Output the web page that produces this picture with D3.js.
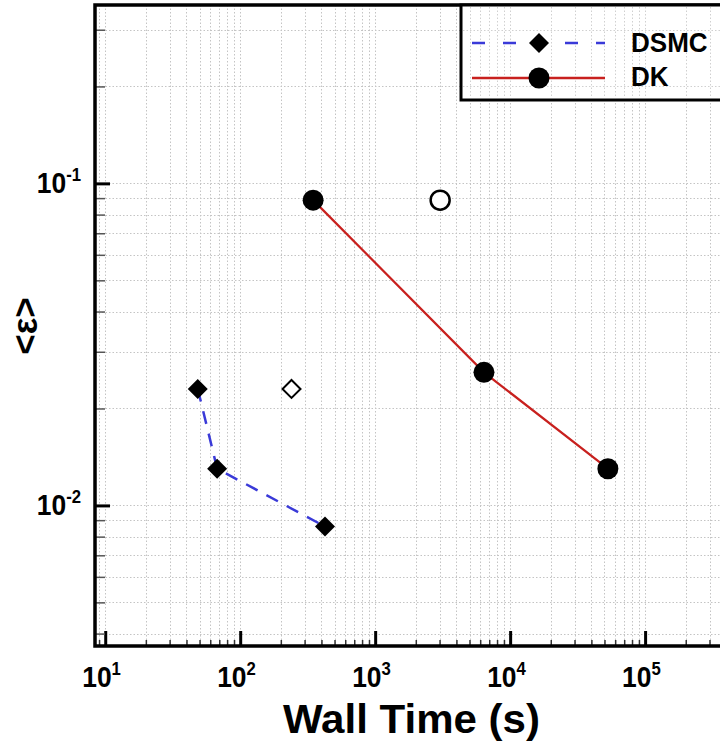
<!DOCTYPE html>
<html>
<head>
<meta charset="utf-8">
<script src="https://cdn.jsdelivr.net/npm/d3@7"></script>
<style>
html,body{margin:0;padding:0;background:#fff;overflow:hidden;}
svg{display:block;}
</style>
</head>
<body>
<svg id="chart" width="720" height="742"></svg>
<script>
// ---- data ----
const dsmcTime = [48.5, 67.5, 425];
const dsmcErr  = [0.0230, 0.0130, 0.0086];
const dkTime   = [347, 6400, 53000];
const dkErr    = [0.0887, 0.0259, 0.0130];
const openDiamond = [{t: 240, e: 0.0230}];
const openCircle  = [{t: 3030, e: 0.0887}];
const xMajorTicks = [10, 100, 1000, 10000, 100000];
const xTickExp    = ["1", "2", "3", "4", "5"];
const yMajorTicks = [0.01, 0.1];
const yTickExp    = ["-2", "-1"];
const seriesNames = ["DSMC", "DK"];

// ---- layout ----
const svg = d3.select("#chart");
const L = 95, T = 5, B = 646, R = 760;
const x = d3.scaleLog().domain([8.4, 7.1e5]).range([L, R]);
const y = d3.scaleLog().domain([0.00366, 0.358]).range([B, T]);

function minors(dom) {
  const out = [];
  const lo = Math.floor(Math.log10(dom[0])), hi = Math.ceil(Math.log10(dom[1]));
  for (let p = lo; p <= hi; p++) {
    for (let m = 1; m <= 9; m++) {
      const v = m * Math.pow(10, p);
      if (v >= dom[0] && v <= dom[1]) out.push(v);
    }
  }
  return out;
}
const xAll = minors(x.domain());
const yAll = minors(y.domain());
const xMinor = xAll.filter(v => !xMajorTicks.some(m => Math.abs(m - v) / m < 1e-9));
const yMinor = yAll.filter(v => !yMajorTicks.some(m => Math.abs(m - v) / m < 1e-9));

// ---- grid ----
const grid = svg.append("g").attr("stroke", "#c4c4c4").attr("stroke-width", 1).attr("stroke-dasharray", "1.5,2");
grid.selectAll("line.gx").data(xAll).enter().append("line")
  .attr("x1", d => Math.round(x(d)) + 0.5).attr("x2", d => Math.round(x(d)) + 0.5)
  .attr("y1", T).attr("y2", B);
grid.selectAll("line.gy").data(yAll).enter().append("line")
  .attr("y1", d => Math.round(y(d)) + 0.5).attr("y2", d => Math.round(y(d)) + 0.5)
  .attr("x1", L).attr("x2", R);

// ---- axes ticks ----
const font = "'Liberation Sans', Arial, sans-serif";
const xAxisMinor = d3.axisBottom(x).tickValues(xMinor).tickSize(-6).tickFormat("");
const xAxisMajor = d3.axisBottom(x).tickValues(xMajorTicks).tickSize(-15).tickFormat("");
const yAxisMinor = d3.axisLeft(y).tickValues(yMinor).tickSize(-10).tickFormat("");
const yAxisMajor = d3.axisLeft(y).tickValues(yMajorTicks).tickSize(-15).tickFormat("");

function styleAxis(g, w, col) {
  g.select(".domain").remove();
  g.selectAll(".tick line").attr("stroke", col).attr("stroke-width", w);
}
svg.append("g").attr("transform", `translate(0,${B})`).call(xAxisMinor).call(g => styleAxis(g, 1.5, "#333"));
svg.append("g").attr("transform", `translate(0,${B})`).call(xAxisMajor).call(g => styleAxis(g, 3, "#000"));
svg.append("g").attr("transform", `translate(${L},0)`).call(yAxisMinor).call(g => styleAxis(g, 1.5, "#555"));
svg.append("g").attr("transform", `translate(${L},0)`).call(yAxisMajor).call(g => styleAxis(g, 3, "#000"));

// ---- frame ----
svg.append("path")
  .attr("d", `M${R},${T}H${L}V${B}H${R}`)
  .attr("fill", "none").attr("stroke", "#000").attr("stroke-width", 3.5);

// ---- tick labels ----
const xl = svg.append("g").attr("font-family", font).attr("font-weight", "bold").attr("fill", "#000");
xMajorTicks.forEach((v, i) => {
  const t = xl.append("text").attr("transform", `translate(${x(v) - 23},687) scale(0.88,1)`)
    .attr("text-anchor", "start").attr("font-size", 30);
  t.append("tspan").text("10");
  t.append("tspan").attr("dy", -12).attr("font-size", 19).text(xTickExp[i]);
});
yMajorTicks.forEach((v, i) => {
  const t = xl.append("text").attr("transform", `translate(81,${y(v) + 10}) scale(0.88,1)`)
    .attr("text-anchor", "end").attr("font-size", 30);
  t.append("tspan").text("10");
  t.append("tspan").attr("dy", -12).attr("font-size", 19).text(yTickExp[i]);
});

// axis titles
svg.append("text").attr("x", 283).attr("y", 733).attr("text-anchor", "start")
  .attr("font-family", font).attr("font-weight", "bold").attr("font-size", 41)
  .attr("textLength", 257).attr("lengthAdjust", "spacingAndGlyphs")
  .text("Wall Time (s)");
svg.append("text").attr("transform", "translate(37,326) rotate(-90)").attr("text-anchor", "middle")
  .attr("font-family", font).attr("font-weight", "bold").attr("font-size", 35)
  .text("<ε>");

// ---- series ----
const plot = svg.append("g");
const line = d3.line().x(d => x(d[0])).y(d => y(d[1]));
const dsmc = dsmcTime.map((t, i) => [t, dsmcErr[i]]);
const dk = dkTime.map((t, i) => [t, dkErr[i]]);

plot.append("path").datum(dsmc).attr("d", line).attr("fill", "none")
  .attr("stroke", "#3a3ad8").attr("stroke-width", 2.5).attr("stroke-dasharray", "13,10");
plot.append("path").datum(dk).attr("d", line).attr("fill", "none")
  .attr("stroke", "#c8201e").attr("stroke-width", 2.2);

const diamond = s => `M0,${-s}L${s},0L0,${s}L${-s},0Z`;
plot.selectAll("path.dm").data(dsmc).enter().append("path")
  .attr("d", diamond(10)).attr("transform", d => `translate(${x(d[0])},${y(d[1])})`)
  .attr("fill", "#000");
plot.selectAll("path.od").data(openDiamond).enter().append("path")
  .attr("d", diamond(9)).attr("transform", d => `translate(${x(d.t)},${y(d.e)})`)
  .attr("fill", "#fff").attr("stroke", "#000").attr("stroke-width", 2);
plot.selectAll("circle.dk").data(dk).enter().append("circle")
  .attr("cx", d => x(d[0])).attr("cy", d => y(d[1])).attr("r", 10.5).attr("fill", "#000");
plot.selectAll("circle.oc").data(openCircle).enter().append("circle")
  .attr("cx", d => x(d.t)).attr("cy", d => y(d.e)).attr("r", 9.5)
  .attr("fill", "#fff").attr("stroke", "#000").attr("stroke-width", 2.5);

// ---- legend ----
const lg = svg.append("g");
lg.append("rect").attr("x", 461).attr("y", 5).attr("width", 300).attr("height", 95)
  .attr("fill", "#fff").attr("stroke", "#000").attr("stroke-width", 3);
const lgGrid = lg.append("g").attr("stroke", "#d0d0d0").attr("stroke-width", 1).attr("stroke-dasharray", "1.5,2");
lgGrid.selectAll("line").data(xAll.filter(v => x(v) > 463)).enter().append("line")
  .attr("x1", d => Math.round(x(d)) + 0.5).attr("x2", d => Math.round(x(d)) + 0.5).attr("y1", 7).attr("y2", 98);
lgGrid.selectAll("line.h").data(yAll.filter(v => y(v) > 7 && y(v) < 98)).enter().append("line")
  .attr("y1", d => Math.round(y(d)) + 0.5).attr("y2", d => Math.round(y(d)) + 0.5).attr("x1", 463).attr("x2", 720);

const legendRows = [
  {name: seriesNames[0], y: 43, base: 52, color: "#3a3ad8", dash: "13,18", marker: "diamond"},
  {name: seriesNames[1], y: 78, base: 86, color: "#c8201e", dash: null, marker: "circle"}
];
legendRows.forEach(r => {
  const ln = lg.append("line").attr("x1", 472).attr("x2", 605).attr("y1", r.y).attr("y2", r.y)
    .attr("stroke", r.color).attr("stroke-width", 2.5);
  if (r.dash) ln.attr("stroke-dasharray", r.dash);
  if (r.marker === "diamond") {
    lg.append("path").attr("d", diamond(10)).attr("transform", `translate(539,${r.y})`).attr("fill", "#000");
  } else {
    lg.append("circle").attr("cx", 539).attr("cy", r.y).attr("r", 10.5).attr("fill", "#000");
  }
  lg.append("text").attr("transform", `translate(631,${r.base}) scale(0.93,1)`).attr("font-family", font)
    .attr("font-weight", "bold").attr("font-size", 28).text(r.name);
});
</script>
</body>
</html>
